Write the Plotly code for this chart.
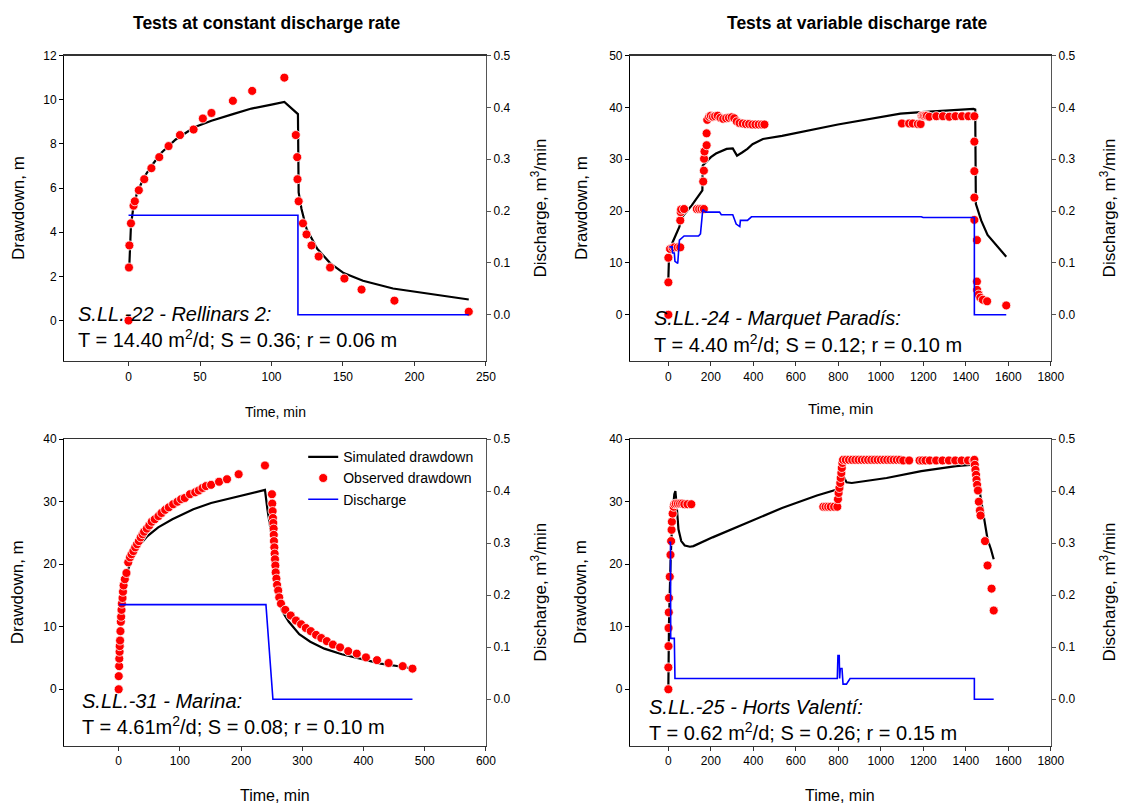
import plotly.graph_objects as go

W, H = 1134, 807
FONT = "Liberation Sans, Arial, sans-serif"

# ---------------- Panel 1: S.LL.-22 - Rellinars 2 ----------------
p1_obs_t = [0, 0.3, 0.6, 1.7, 3.5, 4.4, 7.2, 11, 16, 21.5, 28, 36, 45.5, 52, 58, 73, 86.5, 109,
            117, 118, 118.2, 119, 122, 124.5, 128, 133, 141, 151, 163, 186, 238]
p1_obs_s = [0, 2.4, 3.4, 4.4, 5.2, 5.4, 5.9, 6.4, 6.9, 7.4, 7.9, 8.4, 8.65, 9.15, 9.4, 9.95, 10.4, 11.0,
            8.4, 7.4, 6.4, 5.4, 4.4, 3.9, 3.4, 2.9, 2.4, 1.9, 1.4, 0.9, 0.4]
p1_sim_t = [0.5, 1, 1.7, 3.2, 6, 11, 16, 23, 33, 46, 58, 73, 86, 100, 109, 118.5, 119, 121, 124.5,
            132, 141, 150.5, 164, 185, 238]
p1_sim_s = [2.4, 3.6, 4.3, 5.05, 5.8, 6.5, 7.0, 7.6, 8.2, 8.75, 9.05, 9.35, 9.6, 9.78, 9.9, 9.35, 5.8,
            5.05, 4.15, 3.25, 2.6, 2.15, 1.8, 1.45, 0.95]
p1_q_t = [0, 118.5, 118.5, 238]
p1_q = [0.192, 0.192, 0.0, 0.0]

# ---------------- Panel 2: S.LL.-24 - Marquet Paradis ----------------
p2_obs_t = [0, 0, 0, 8, 20, 28, 44, 56, 56, 58, 60, 74, 134, 145, 156, 167, 164, 167, 168, 170, 180, 180,
            183, 192, 200, 210, 220, 232, 245, 258, 272, 285, 298, 310,
            322, 335, 350, 365, 380, 395, 410, 425, 440, 452,
            1099, 1133, 1150, 1174, 1187, 1192, 1197, 1203, 1210, 1217, 1228, 1261, 1292, 1322, 1351,
            1382, 1412, 1440,
            1440, 1440, 1440, 1440, 1452, 1452, 1453, 1460, 1468, 1480, 1500, 1590]
p2_obs_s = [0, 6.25, 11.0, 12.7, 12.9, 13.0, 13.0, 13.0, 18.2, 19.8, 20.3, 20.4, 20.4, 20.4, 20.4, 20.4,
            25.7, 27.8, 30.1, 31.5, 32.7, 35.0,
            37.6, 38.2, 38.4, 38.2, 38.3, 38.4, 38.0, 37.8, 37.9, 38.0, 38.1, 37.9,
            37.3, 37.0, 36.9, 36.8, 36.8, 36.7, 36.7, 36.7, 36.7, 36.7,
            36.9, 36.9, 36.9, 36.8, 36.8, 38.4, 38.4, 38.4, 38.4, 38.4, 38.2, 38.3, 38.3, 38.2, 38.3,
            38.3, 38.3, 38.3,
            33.4, 27.7, 22.6, 18.3, 14.4, 6.4, 4.8, 3.9, 3.3, 2.9, 2.6, 1.8]
p2_sim_t = [0, 0, 3, 20, 40, 52, 61, 77, 110, 146, 160, 162, 175, 200, 224, 274, 303, 323, 347, 372,
            396, 445, 535, 798, 1092, 1190, 1436, 1444, 1447, 1461, 1472, 1502, 1590]
p2_sim_s = [7.1, 10, 11.2, 14, 16, 17, 18.6, 19.5, 21.1, 23.3, 24.0, 28.8, 29.4, 30.4, 31.1, 32.0,
            32.1, 30.7, 31.3, 32.0, 32.9, 33.9, 34.5, 36.7, 38.8, 39.1, 39.7, 39.6, 21.4, 19.8, 18.2,
            15.4, 11.2]
p2_q_t = [5, 18, 20, 28, 31, 44, 52, 61, 74, 142, 151, 162, 175, 241, 249, 303, 319, 336, 339, 372,
          391, 1190, 1199, 1440, 1440, 1590]
p2_q = [0.131, 0.131, 0.119, 0.119, 0.103, 0.099, 0.144, 0.147, 0.152, 0.152, 0.156, 0.203, 0.198,
        0.198, 0.193, 0.193, 0.175, 0.170, 0.182, 0.182, 0.189, 0.189, 0.1875, 0.1875, 0.0, 0.0]

# ---------------- Panel 3: S.LL.-31 - Marina ----------------
p3_obs_t = [0, 0.1, 0.8, 1.0, 1.5, 1.7, 2.3, 2.9, 3.5, 4.0, 4.6, 5.2, 6.3, 7.0, 8.0, 10.0, 12.7, 15.6,
            18.5, 21, 24, 27, 30, 33, 36, 39, 41.5, 46, 50, 54, 59, 65, 70, 76, 82, 89, 96, 102, 108,
            116.5, 125, 131, 137, 142.5, 151, 164, 177, 196, 239,
            250.4, 250.9, 251.5, 252, 252.6, 253.2, 253.4, 253.7, 254.3, 254.8, 255.4, 256, 256.5,
            257.7, 258.8, 260.6, 262.3, 265.2, 272.2, 281, 289.6, 298, 305.8, 313.8, 322.5, 331,
            340, 350, 361.7, 375, 389, 404, 422, 441, 464, 480]
p3_obs_s = [0, 2.1, 3.7, 4.9, 6.0, 6.9, 7.8, 9.3, 10.8, 11.6, 12.7, 13.7, 14.6, 15.6, 16.6, 17.6, 18.6,
            20.3, 21.1, 21.6, 22.1, 22.7, 23.2, 23.7, 24.3, 24.8, 25.2, 25.7, 26.2, 26.8, 27.2, 27.7,
            28.2, 28.7, 29.1, 29.6, 30.0, 30.4, 30.6, 31.2, 31.5, 31.8, 32.2, 32.5, 32.7, 33.2, 33.6,
            34.4, 35.8,
            31.2, 29.7, 28.5, 27.4, 26.6, 25.7, 24.7, 23.7, 22.7, 21.7, 20.8, 19.8, 18.7, 17.7, 16.7,
            15.8, 14.7, 13.7, 12.7, 11.8, 11.0, 10.4, 9.8, 9.3, 8.7, 8.2, 7.7, 7.15, 6.7, 6.1, 5.7,
            5.1, 4.66, 4.2, 3.7, 3.3]
p3_sim_t = [1, 4, 10, 15.6, 23, 33, 47, 64.6, 87.7, 122, 151, 197, 239, 243, 249, 255, 263.7, 266.5,
            278, 295, 313, 336, 364.6, 399, 428, 463, 480]
p3_sim_s = [10.2, 12.9, 16.6, 19.2, 21.2, 22.9, 24.5, 25.9, 27.2, 28.8, 29.8, 30.9, 31.9, 28.8, 25.1,
            21.4, 15.0, 12.6, 10.8, 8.8, 7.6, 6.5, 5.6, 4.8, 4.1, 3.6, 3.3]
p3_q_t = [1, 240.6, 252, 480]
p3_q = [0.182, 0.182, 0.0, 0.0]

# ---------------- Panel 4: S.LL.-25 - Horts Valenti ----------------
p4_obs_t = [0, 0, 0.6, 0.8, 2, 3, 6.5, 10, 13, 15, 16.5, 20, 25, 28, 35, 45, 55, 65, 75, 90, 108,
            729, 740, 752, 764, 780, 795, 798, 801, 805, 809, 811, 814, 816, 819, 822,
            835, 850, 865, 880, 895, 910, 925, 940, 955, 970, 985, 1000, 1015, 1030, 1045, 1060,
            1075, 1090, 1105, 1133,
            1182, 1195, 1210, 1230, 1260, 1290, 1320, 1350, 1380, 1410, 1436,
            1440, 1442, 1445, 1448, 1450, 1453, 1457, 1461, 1466, 1469, 1490, 1502, 1521, 1531]
p4_obs_s = [0, 3.5, 6.9, 9.8, 12.3, 14.6, 18.0, 21.5, 23.7, 25.5, 26.8, 28.1, 29.2, 29.6, 29.7, 29.7,
            29.7, 29.7, 29.6, 29.6, 29.6,
            29.2, 29.2, 29.2, 29.2, 29.2, 29.2, 30.4, 31.4, 32.2, 33.0, 33.8, 34.6, 35.4, 36.2, 36.7,
            36.7, 36.7, 36.7, 36.7, 36.7, 36.7, 36.7, 36.7, 36.7, 36.7, 36.7, 36.7, 36.7, 36.7, 36.7,
            36.7, 36.7, 36.7, 36.6, 36.6,
            36.6, 36.6, 36.6, 36.6, 36.6, 36.6, 36.6, 36.6, 36.6, 36.6, 36.6,
            36.7, 35.9, 35.1, 34.3, 33.5, 32.7, 31.8, 30.0, 28.6, 27.8, 23.7, 19.8, 16.1, 12.6]
p4_sim_t = [0, 3, 11, 20, 28, 33, 38, 47.5, 60.6, 77, 101.5, 118, 208, 372, 535, 699, 789, 800, 814,
            818, 838, 863, 1027, 1190, 1354, 1420, 1436, 1453, 1469, 1485, 1502, 1518, 1531]
p4_sim_s = [0.7, 10.8, 21.3, 28.2, 31.2, 31.7, 29.8, 25.6, 23.7, 23.0, 22.8, 22.9, 24.3, 26.6, 29.0,
            31.0, 31.9, 32.2, 34.9, 34.5, 33.1, 33.0, 33.8, 34.9, 35.7, 35.9, 36.2, 34.1, 30.9, 27.2,
            24.0, 22.4, 20.8]
p4_q_t = [2, 10, 11, 28, 31, 795, 798, 804, 806, 809, 817, 822, 838, 855, 1440, 1440, 1531]
p4_q = [0.302, 0.302, 0.117, 0.117, 0.04, 0.04, 0.084, 0.084, 0.04, 0.059, 0.059, 0.029, 0.029,
        0.04, 0.04, 0.0, 0.0]

# ---------------- text ----------------
col_titles = ["Tests at constant discharge rate", "Tests at variable discharge rate"]
well_names = ["S.LL.-22 - Rellinars 2:", "S.LL.-24 - Marquet Paradís:",
              "S.LL.-31 - Marina:", "S.LL.-25 - Horts Valentí:"]
well_params = ["T = 14.40 m<sup>2</sup>/d; S = 0.36; r = 0.06 m",
               "T = 4.40 m<sup>2</sup>/d; S = 0.12; r = 0.10 m",
               "T = 4.61m<sup>2</sup>/d; S = 0.08; r = 0.10 m",
               "T = 0.62 m<sup>2</sup>/d; S = 0.26; r = 0.15 m"]
legend_names = ["Simulated drawdown", "Observed drawdown", "Discharge"]

# ---------------- layout geometry (pixels) ----------------
panels = [
    dict(obs=(p1_obs_t, p1_obs_s), sim=(p1_sim_t, p1_sim_s), q=(p1_q_t, p1_q),
         xpx=(65, 492), ypx=(49, 357), xr=[-45, 250], xd=50, yr=[-1.83, 12], yd=2,
         txt=(0.029, 0.152, 0.072), xt_size=14, xt_y=409, yl_x=18, yr_x=546),
    dict(obs=(p2_obs_t, p2_obs_s), sim=(p2_sim_t, p2_sim_s), q=(p2_q_t, p2_q),
         xpx=(638, 1064), ypx=(49, 357), xr=[-180, 1800], xd=200, yr=[-8.9, 50], yd=10,
         txt=(0.051, 0.14, 0.058), xt_size=15, xt_y=405, yl_x=588, yr_x=1122),
    dict(obs=(p3_obs_t, p3_obs_s), sim=(p3_sim_t, p3_sim_s), q=(p3_q_t, p3_q),
         xpx=(65, 492), ypx=(436, 745), xr=[-89, 600], xd=100, yr=[-9, 40], yd=10,
         txt=(0.038, 0.145, 0.065), xt_size=16, xt_y=795, yl_x=18, yr_x=546),
    dict(obs=(p4_obs_t, p4_obs_s), sim=(p4_sim_t, p4_sim_s), q=(p4_q_t, p4_q),
         xpx=(638, 1064), ypx=(436, 745), xr=[-180, 1800], xd=200, yr=[-9, 40], yd=10,
         txt=(0.04, 0.125, 0.045), xt_size=16, xt_y=795, yl_x=588, yr_x=1122),
]

fig = go.Figure()
annotations = []
layout = {}

for i, p in enumerate(panels):
    n = i + 1
    xid = "x" if n == 1 else f"x{n}"
    yl = "y" if n == 1 else f"y{2 * n - 1}"
    yrid = f"y{2 * n}"
    show = (n == 3)

    fig.add_trace(go.Scatter(x=p["sim"][0], y=p["sim"][1], mode="lines", name=legend_names[0],
                             line=dict(color="black", width=2.2), xaxis=xid, yaxis=yl,
                             showlegend=show, hoverinfo="skip"))
    fig.add_trace(go.Scatter(x=p["obs"][0], y=p["obs"][1], mode="markers", name=legend_names[1],
                             marker=dict(color="#ff0000", size=9, line=dict(color="white", width=0.8)),
                             xaxis=xid, yaxis=yl, showlegend=show, hoverinfo="skip"))
    fig.add_trace(go.Scatter(x=p["q"][0], y=p["q"][1], mode="lines", name=legend_names[2],
                             line=dict(color="#0000ff", width=1.6), xaxis=xid, yaxis=yrid,
                             showlegend=show, hoverinfo="skip"))

    xdom = [p["xpx"][0] / W, p["xpx"][1] / W]
    ydom = [1 - p["ypx"][1] / H, 1 - p["ypx"][0] / H]
    tickfont = dict(family=FONT, size=12, color="black")
    layout["xaxis" if n == 1 else f"xaxis{n}"] = dict(
        domain=xdom, anchor=yl, range=p["xr"], dtick=p["xd"], tick0=0,
        showline=True, linecolor="#333333", linewidth=1.2, mirror=True,
        ticks="outside", ticklen=4, tickcolor="#333333", showgrid=False, zeroline=False,
        tickfont=tickfont)
    layout["yaxis" if n == 1 else f"yaxis{2 * n - 1}"] = dict(
        domain=ydom, anchor=xid, range=p["yr"], dtick=p["yd"], tick0=0,
        showline=True, linecolor="black", linewidth=1.2, ticks="outside", ticklen=4,
        tickcolor="black", showgrid=False, zeroline=False, tickfont=tickfont)
    layout[f"yaxis{2 * n}"] = dict(
        overlaying=yl, side="right", anchor=xid, range=[-0.089, 0.5], dtick=0.1, tick0=0,
        tickformat=".1f", showline=True, linecolor="#555555", linewidth=1.2, ticks="outside",
        ticklen=4, tickcolor="#555555", showgrid=False, zeroline=False, tickfont=tickfont)

    tx, ty1, ty2 = p["txt"]
    annotations.append(dict(text=f"<i>{well_names[i]}</i>", xref=f"{xid} domain", yref=f"{yl} domain",
                            x=tx, y=ty1, xanchor="left", yanchor="middle", showarrow=False,
                            font=dict(family=FONT, size=20, color="black")))
    annotations.append(dict(text=well_params[i], xref=f"{xid} domain", yref=f"{yl} domain",
                            x=tx, y=ty2, xanchor="left", yanchor="middle", showarrow=False,
                            font=dict(family=FONT, size=20, color="black")))
    ymid = 1 - (p["ypx"][0] + p["ypx"][1]) / 2 / H
    annotations.append(dict(text="Drawdown, m", xref="paper", yref="paper", x=p["yl_x"] / W, y=ymid,
                            textangle=-90, xanchor="center", yanchor="middle", showarrow=False,
                            font=dict(family=FONT, size=17, color="black")))
    annotations.append(dict(text="Discharge, m<sup>3</sup>/min", xref="paper", yref="paper",
                            x=p["yr_x"] / W, y=ymid, textangle=-90, xanchor="center",
                            yanchor="middle", showarrow=False,
                            font=dict(family=FONT, size=17, color="black")))
    annotations.append(dict(text="Time, min", xref="paper", yref="paper",
                            x=(p["xpx"][0] + p["xpx"][1]) / 2 / W, y=1 - p["xt_y"] / H,
                            xanchor="center", yanchor="middle", showarrow=False,
                            font=dict(family=FONT, size=p["xt_size"], color="black")))

for j, t in enumerate(col_titles):
    annotations.append(dict(text=f"<b>{t}</b>", xref="paper", yref="paper",
                            x=(270 if j == 0 else 868) / W, y=1 - 16 / H,
                            xanchor="center", yanchor="middle", showarrow=False,
                            font=dict(family=FONT, size=17.5, color="black")))

fig.update_layout(
    width=W, height=H, margin=dict(l=0, r=0, t=0, b=0),
    paper_bgcolor="white", plot_bgcolor="white",
    font=dict(family=FONT, color="black"),
    annotations=annotations,
    hovermode=False,
    legend=dict(x=307 / W, y=1 - 438 / H, xanchor="left", yanchor="top",
                bgcolor="rgba(0,0,0,0)", font=dict(family=FONT, size=14, color="black"),
                tracegroupgap=0),
    **layout,
)

fig.write_html("out.html", config={"displayModeBar": False, "staticPlot": True},
               post_script="document.body.style.margin='0px';")
